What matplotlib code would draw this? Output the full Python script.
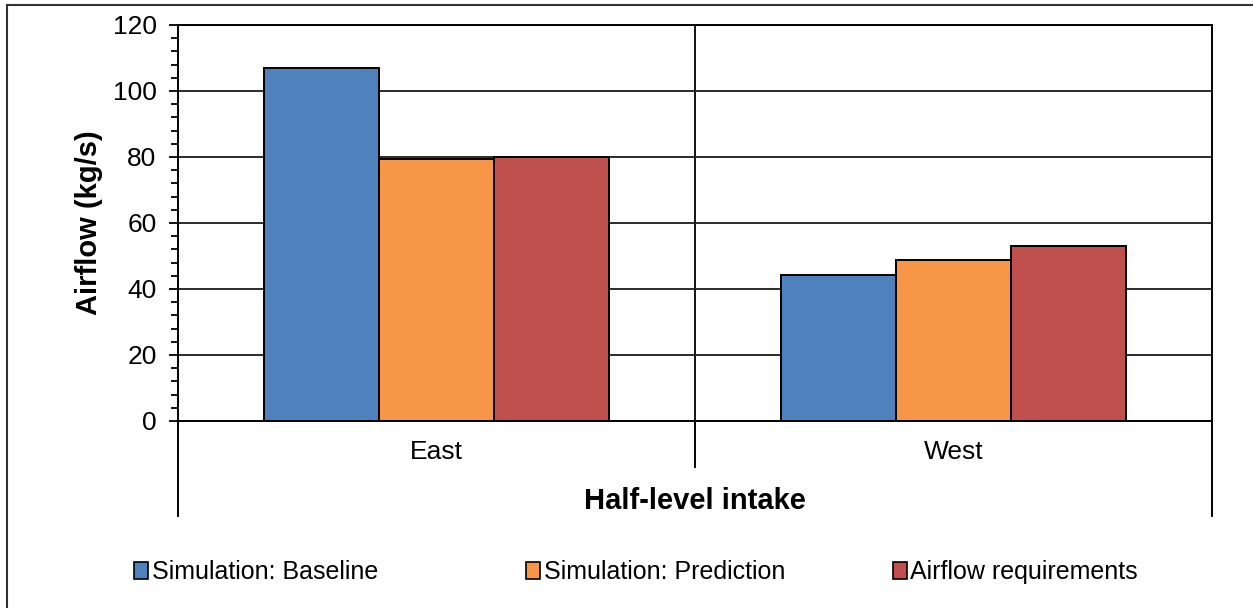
import numpy as np
import matplotlib.pyplot as plt
from matplotlib.lines import Line2D
from matplotlib.patches import Patch
from matplotlib.ticker import MultipleLocator

plt.rcParams['font.family'] = ['Liberation Sans', 'DejaVu Sans']

# Data
categories = ['East', 'West']
series_names = ['Simulation: Baseline', 'Simulation: Prediction', 'Airflow requirements']
baseline = [107.0, 44.3]
prediction = [79.5, 48.7]
requirements = [80.0, 53.0]
colors = ['#4F81BD', '#F79646', '#C0504D']

fig = plt.figure(figsize=(12.53, 6.08), dpi=100)
ax = fig.add_axes([0.1421, 0.3076, 0.8252, 0.6513])

x = np.arange(len(categories))
width = 0.222
for i, (vals, name, col) in enumerate(zip([baseline, prediction, requirements], series_names, colors)):
    ax.bar(x + (i - 1) * width, vals, width, color=col, edgecolor='black',
           linewidth=1.4, label=name, zorder=3)

ax.set_xlim(-0.5, 1.5)
ax.set_ylim(0, 120)
ax.yaxis.set_major_locator(MultipleLocator(20))
ax.yaxis.set_minor_locator(MultipleLocator(4))
ax.grid(axis='y', color='#1a1a1a', linewidth=1.3, zorder=0)
ax.axvline(0.5, color='black', linewidth=1.3, zorder=1)

ax.set_xticks(x)
ax.set_xticklabels(categories, fontsize=19)
ax.tick_params(axis='x', length=0, pad=14)
ax.tick_params(axis='y', which='major', length=6.5, width=1.3, labelsize=19,
               direction='out', pad=9)
ax.tick_params(axis='y', which='minor', length=5, width=1.3, direction='out')

for s in ax.spines.values():
    s.set_color('black')
    s.set_linewidth(1.4)
ax.spines['bottom'].set_zorder(4)

# multi-level category axis lines below the plot
tr = ax.transAxes
for xa, ybot in [(0.0, -0.24), (0.5, -0.116), (1.0, -0.24)]:
    ax.add_line(Line2D([xa, xa], [0, ybot], transform=tr, color='black',
                       linewidth=1.4, clip_on=False))

ax.set_ylabel('Airflow (kg/s)', fontsize=21, fontweight='bold')
ax.yaxis.set_label_coords(-0.0725, 0.5)
fig.text(0.5547, 1 - 501 / 608, 'Half-level intake', fontsize=21, fontweight='bold',
         ha='center', va='center')

# legend entries placed like the original
legend_x = [134, 526, 893]
for name, col, lx in zip(series_names, colors, legend_x):
    h = Patch(facecolor=col, edgecolor='black', linewidth=1.2)
    fig.legend([h], [name], loc='center left', bbox_to_anchor=(lx / 1253, 1 - 572 / 608),
               frameon=False, fontsize=18, handlelength=0.55, handleheight=0.7,
               handletextpad=0.15, borderpad=0, borderaxespad=0)

# outer chart border (top and left visible)
fig.add_artist(Line2D([7 / 1253, 7 / 1253], [0, 1 - 5 / 608], transform=fig.transFigure,
                      color='#333333', linewidth=1.5))
fig.add_artist(Line2D([7 / 1253, 1], [1 - 5 / 608, 1 - 5 / 608], transform=fig.transFigure,
                      color='#333333', linewidth=1.5))

fig.savefig('out.png', dpi=100, facecolor='white')
